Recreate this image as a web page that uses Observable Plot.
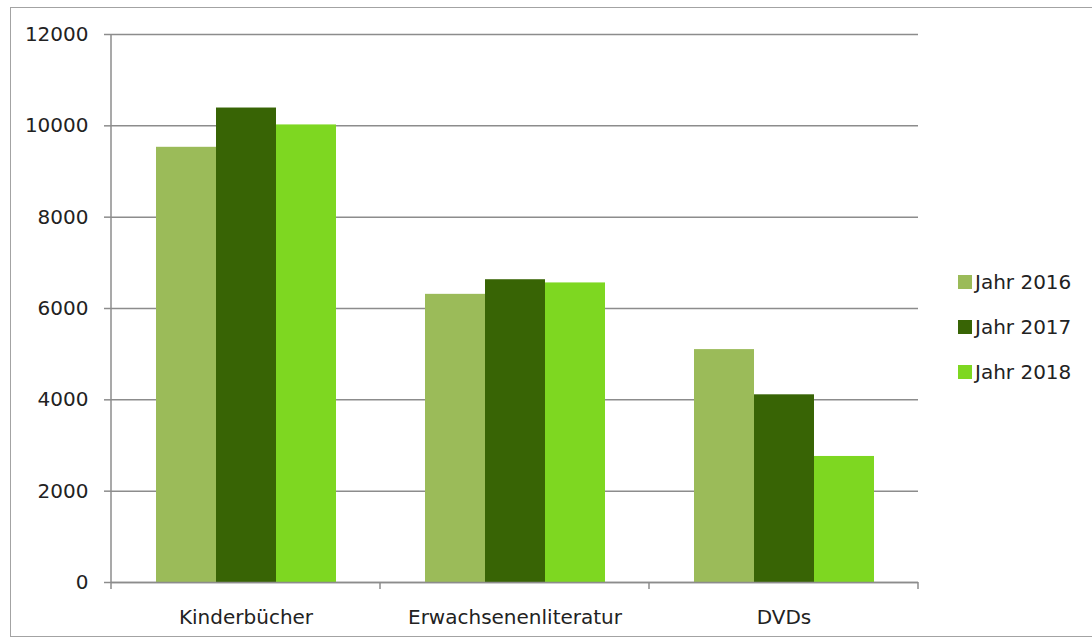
<!DOCTYPE html>
<html>
<head>
<meta charset="utf-8">
<script src="https://cdn.jsdelivr.net/npm/d3@7"></script>
<script src="https://cdn.jsdelivr.net/npm/@observablehq/plot@0.6"></script>
<style>
  html, body { margin: 0; padding: 0; background: #fff; overflow: hidden; }
  #wrap { position: relative; width: 1092px; height: 644px; font-family: "DejaVu Sans", sans-serif; }
  #frame { position: absolute; left: 10px; top: 7px; width: 1100px; height: 630px; border: 1.5px solid #a3a3a3; box-sizing: border-box; }
  #chart { position: absolute; left: 0; top: 0; }
  #legend { position: absolute; left: 958px; top: 270px; }
  .row { display: flex; align-items: center; height: 24px; margin-bottom: 21px; font-size: 20px; color: #222; }
  .sw { width: 14px; height: 14px; margin-right: 3px; }
</style>
</head>
<body>
<div id="wrap">
  <div id="frame"></div>
  <div id="chart"></div>
  <div id="legend"></div>
</div>
<script>
const categories = ["Kinderbücher", "Erwachsenenliteratur", "DVDs"];
const years = ["Jahr 2016", "Jahr 2017", "Jahr 2018"];
const values2016 = [9530, 6310, 5100];
const values2017 = [10390, 6630, 4110];
const values2018 = [10020, 6560, 2760];
const colors = ["#9bbb59", "#386405", "#7ed721"];
const yTicks = [0, 2000, 4000, 6000, 8000, 10000, 12000];

const series = [values2016, values2017, values2018];
const data = categories.flatMap((c, i) => years.map((yr, j) => ({category: c, year: yr, value: series[j][i]})));

const gridColor = "#8c8c8c";

const chart = Plot.plot({
  width: 1092,
  height: 644,
  marginLeft: 111,
  marginRight: 174,
  marginTop: 34,
  marginBottom: 62,
  style: {fontFamily: "DejaVu Sans", fontSize: "20px", color: "#222", background: "transparent", overflow: "visible"},
  fx: {domain: categories, padding: 0, label: null},
  x: {domain: years, paddingInner: 0, paddingOuter: 0.74, axis: null},
  y: {domain: [0, 12000], label: null},
  color: {domain: years, range: colors},
  marks: [
    Plot.gridY(yTicks, {stroke: gridColor, strokeOpacity: 1, strokeWidth: 1.5}),
    Plot.barY(data, {fx: "category", x: "year", y: "value", fill: "year", inset: 0}),
    Plot.ruleY([0], {stroke: gridColor, strokeWidth: 1.5}),
    Plot.axisY(yTicks, {tickSize: 7, tickPadding: 16, tickFormat: d => String(d), stroke: gridColor, strokeWidth: 1.5, fill: "#222", label: null}),
    Plot.axisFx({anchor: "bottom", tickSize: 0, tickPadding: 27, label: null, fill: "#222"})
  ]
});

document.getElementById("chart").appendChild(chart);

// axis line and category boundary ticks from the library's scales
const fx = chart.scale("fx");
const y = chart.scale("y");
const svg = d3.select(chart.tagName.toLowerCase() === "svg" ? chart : chart.querySelector("svg"));
const y0 = y.apply(0), yTop = y.apply(12000);
const bounds = categories.map(c => fx.apply(c));
bounds.push(fx.apply(categories[categories.length - 1]) + fx.bandwidth);
const g = svg.append("g").attr("stroke", gridColor).attr("stroke-width", 1.5);
g.append("line").attr("x1", bounds[0]).attr("x2", bounds[0]).attr("y1", yTop).attr("y2", y0);
bounds.forEach(b => g.append("line").attr("x1", b).attr("x2", b).attr("y1", y0).attr("y2", y0 + 7));

// legend
const legend = d3.select("#legend");
years.forEach((yr, i) => {
  const row = legend.append("div").attr("class", "row");
  row.append("div").attr("class", "sw").style("background", colors[i]);
  row.append("span").text(yr);
});
</script>
</body>
</html>
